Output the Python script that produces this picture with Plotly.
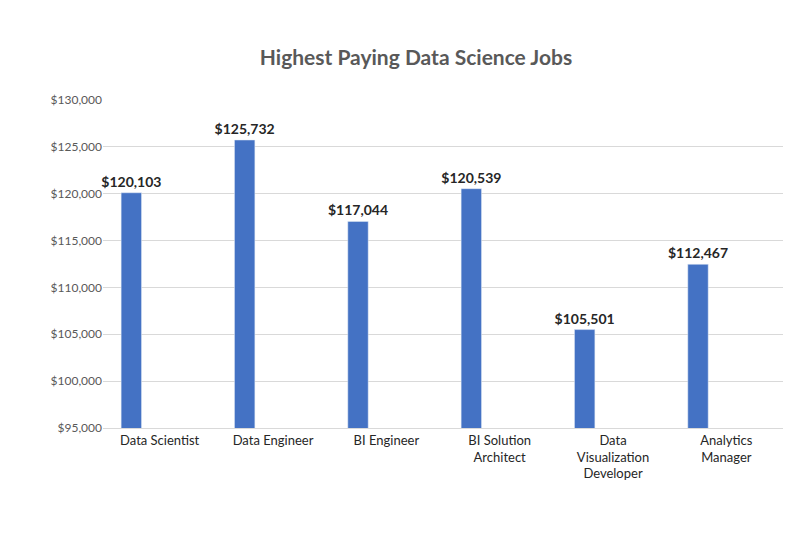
import plotly.graph_objects as go

jobs = ["Data Scientist", "Data Engineer", "BI Engineer", "BI Solution<br>Architect",
        "Data<br>Visualization<br>Developer", "Analytics<br>Manager"]
salaries = [120103, 125732, 117044, 120539, 105501, 112467]

fig = go.Figure(go.Bar(
    x=jobs, y=salaries, width=0.18, offset=-0.34,
    marker_color="#4472C4",
    text=[f"${v:,}" for v in salaries], textposition="outside",
    textfont=dict(size=14, color="#262626", family="Lato"),
    texttemplate="<b>%{text}</b>", cliponaxis=False,
))

fig.update_layout(
    width=800, height=533, plot_bgcolor="white", paper_bgcolor="white",
    margin=dict(l=95, r=25, t=92, b=113),
    uniformtext=dict(minsize=14, mode="show"),
    title=dict(text="<b>Highest Paying Data Science Jobs</b>", x=0.51, y=0.92,
               xanchor="center", font=dict(size=21, color="#595959", family="Lato")),
    font=dict(family="Lato", color="#595959", size=13),
    showlegend=False,
)
fig.update_yaxes(range=[95000, 130000], dtick=5000, tickformat="$,", showgrid=True,
                 gridcolor="#D9D9D9", zeroline=False, ticks="", tickfont=dict(size=12))
fig.update_xaxes(showline=True, linecolor="#D9D9D9", tickfont=dict(size=13, color="#262626"))

fig.write_html("out.html")
